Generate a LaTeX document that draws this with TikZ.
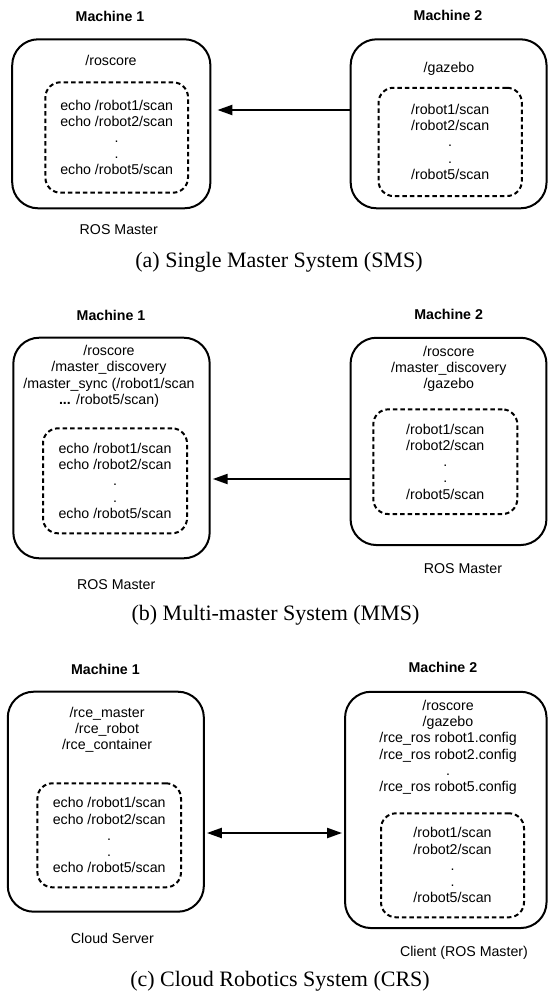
\documentclass[tikz,border=0pt]{standalone}
\usepackage{fontspec}
\setmainfont{Liberation Serif}
\newfontfamily\diagfont{Liberation Sans}
\usetikzlibrary{arrows.meta}
\newcommand{\echolist}{echo /robot1/scan\\echo /robot2/scan\\.\\.\\echo /robot5/scan}
\newcommand{\scanlist}{/robot1/scan\\/robot2/scan\\.\\.\\/robot5/scan}
\begin{document}
\begin{tikzpicture}
[x=1pt,y=-1pt,%
  machinedecorate/.style={shape=rectangle,draw,line width=2pt,rounded corners=26pt,inner sep=0pt},%
  topicdecorate/.style={shape=rectangle,draw,line width=2pt,dash pattern=on 4.5pt off 3pt,rounded corners=15pt,
    align=center,inner sep=0pt,font=\diagfont\fontsize{14.2}{16.2}\selectfont},%
  textdecorate/.style={align=center,inner sep=0pt,font=\diagfont\fontsize{14.2}{16.2}\selectfont},%
  titledecorate/.style={inner sep=0pt,font=\diagfont\bfseries\fontsize{14.2}{16.2}\selectfont},%
  captiondecorate/.style={inner sep=0pt,font=\fontsize{22}{24}\selectfont},%
  linedecorate/.style={line width=2.2pt,-{Triangle[length=15pt,width=10pt]}},%
  bothdecorate/.style={line width=2.2pt,{Triangle[length=15pt,width=10pt]}-{Triangle[length=15pt,width=10pt]}}]
\useasboundingbox (0,0) rectangle (548,996);
%% machines
\foreach \nodename/\x/\y/\w/\h in {
  m1a/111.3/123.8/198.2/169, m2a/448.6/123.8/195.9/169,
  m1b/111.5/448/196.4/220.6, m2b/448.5/441.4/195.9/207.3,
  m1c/105.8/801.7/196.1/220, m2c/445.8/809.9/201.5/236.3}
{
  \node (\nodename) at (\x,\y) [machinedecorate,minimum width=\w pt,minimum height=\h pt] {};
}
%% topics
\foreach \nodename/\x/\y/\w/\h/\topics in {
  d1a/116.7/137.5/142.6/110.4/\echolist, d2a/450.2/141.9/143.3/108.3/\scanlist,
  d1b/115/480.8/144/105/\echolist, d2b/445.3/461.7/144/104.7/\scanlist,
  d1c/109.2/835.3/143.6/104/\echolist, d2c/452.5/865.3/143/104/\scanlist}
{
  \node (\nodename) at (\x,\y) [topicdecorate,minimum width=\w pt,minimum height=\h pt] {\topics};
}
%% processes
\node (p1a) at (111,60.3) [textdecorate] {/roscore};
\node (p2a) at (449,69.3) [textdecorate] {/gazebo};
\node (p1b) at (109,376.3) [textdecorate]
  {/roscore\\/master\_discovery\\/master\_sync (/robot1/scan\\\textbf{...} /robot5/scan)};
\node (p2b) at (448.8,369) [textdecorate] {/roscore\\/master\_discovery\\/gazebo};
\node (p1c) at (107,729.7) [textdecorate] {/rce\_master\\/rce\_robot\\/rce\_container};
\node (p2c) at (448,747.3) [textdecorate]
  {/roscore\\/gazebo\\/rce\_ros robot1.config\\/rce\_ros robot2.config\\.\\/rce\_ros robot5.config};
%% titles and roles
\foreach \nodename/\x/\y/\label in {
  t1a/110/16/Machine 1, t2a/448/15.5/Machine 2,
  t1b/111/315/Machine 1, t2b/448.6/314/Machine 2,
  t1c/105.4/669.3/Machine 1, t2c/442.9/667.3/Machine 2}
{
  \node (\nodename) at (\x,\y) [titledecorate] {\label};
}
\foreach \nodename/\x/\y/\label in {
  r1a/118.8/230/ROS Master, r1b/116.2/585/ROS Master, r2b/463/568.3/ROS Master,
  r1c/112.4/938.3/Cloud Server, r2c/464/952.7/Client (ROS Master)}
{
  \node (\nodename) at (\x,\y) [textdecorate] {\label};
}
%% captions
\node (capa) at (279,262) [captiondecorate] {(a) Single Master System (SMS)};
\node (capb) at (275.5,615) [captiondecorate] {(b) Multi-master System (MMS)};
\node (capc) at (280,981) [captiondecorate] {(c) Cloud Robotics System (CRS)};
%% links
\coordinate (ya) at (0,110);
\coordinate (yb) at (0,479);
\coordinate (yc) at (0,833);
\draw[linedecorate,shorten >=6pt] (m2a.west |- ya) -- (m1a.east |- ya);
\draw[linedecorate,shorten >=2pt] (m2b.west |- yb) -- (m1b.east |- yb);
\draw[bothdecorate,shorten >=2pt,shorten <=2pt] (m1c.east |- yc) -- (m2c.west |- yc);
\end{tikzpicture}
\end{document}
